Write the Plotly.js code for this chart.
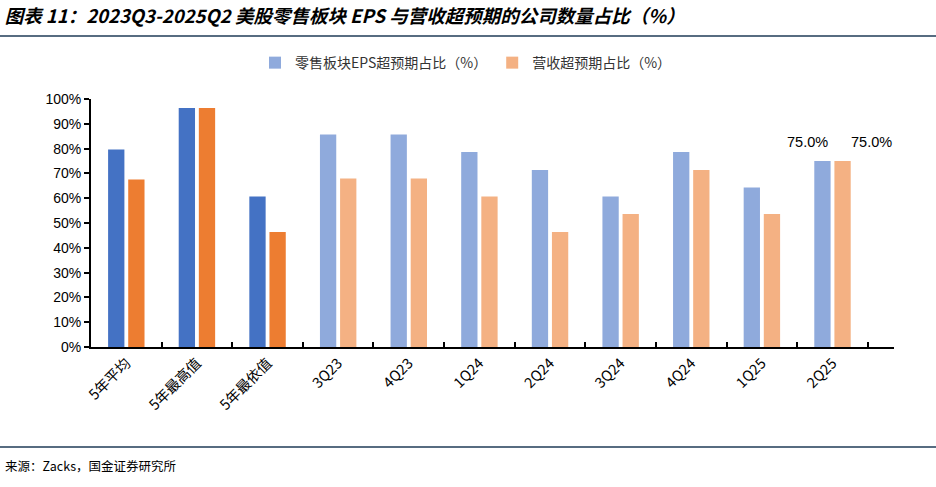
<!DOCTYPE html>
<html><head><meta charset="utf-8">
<script src="https://cdn.plot.ly/plotly-3.0.1.min.js"></script>
<style>body{margin:0;background:#fff}#c{width:936px;height:487px}</style>
</head><body><div id="c"></div>
<script>
const categories = ["5年平均","5年最高值","5年最依值","3Q23","4Q23","1Q24","2Q24","3Q24","4Q24","1Q25","2Q25"];
const epsBeat = [79.6, 96.4, 60.7, 85.7, 85.7, 78.6, 71.4, 60.7, 78.6, 64.3, 75.0];
const revBeat = [67.5, 96.4, 46.4, 67.9, 67.9, 60.7, 46.4, 53.6, 71.4, 53.6, 75.0];
const seriesNames = ["零售板块EPS超预期占比（%）","营收超预期占比（%）"];
const nHist = 3;

const fontLat = "Liberation Sans, Arial, Noto Sans CJK SC, sans-serif";
const fontCJK = "Noto Sans CJK SC, Liberation Sans, sans-serif";

const traces = [
  {type:'bar', x:categories.slice(0,nHist), y:epsBeat.slice(0,nHist), offsetgroup:'a', marker:{color:'#4472C4'}, showlegend:false, name:seriesNames[0]},
  {type:'bar', x:categories.slice(0,nHist), y:revBeat.slice(0,nHist), offsetgroup:'b', marker:{color:'#ED7D31'}, showlegend:false, name:seriesNames[1]},
  {type:'bar', x:categories.slice(nHist), y:epsBeat.slice(nHist), offsetgroup:'a', marker:{color:'#8FAADC'}, name:seriesNames[0]},
  {type:'bar', x:categories.slice(nHist), y:revBeat.slice(nHist), offsetgroup:'b', marker:{color:'#F4B183'}, name:seriesNames[1]}
];

const last = categories.length - 1;
const layout = {
  width:936, height:487,
  margin:{l:91, r:42, t:99, b:140},
  paper_bgcolor:'#fff', plot_bgcolor:'#fff',
  barmode:'group', bargap:0.43, bargroupgap:0.19,
  font:{family:fontLat, color:'#000'},
  title:{text:'<b><i>图表 11：2023Q3-2025Q2 美股零售板块 EPS 与营收超预期的公司数量占比（%）</i></b>',
    x:0.005, xanchor:'left', xref:'container', y:1-17/487, yref:'container', yanchor:'middle',
    font:{family:fontCJK, size:18.5, color:'#000'}},
  legend:{orientation:'h', x:0.467, xanchor:'center', y:1.145, yanchor:'middle',
    font:{family:fontCJK, size:14, color:'#333'}, itemwidth:30, traceorder:'normal'},
  xaxis:{type:'category', categoryorder:'array', categoryarray:categories,
    showline:true, linecolor:'#000', linewidth:2, ticks:'inside', tickson:'boundaries',
    ticklen:5, tickwidth:2, tickcolor:'#000', tickangle:-45,
    tickfont:{family:fontCJK, size:14.5, color:'#000'}, showgrid:false, zeroline:false},
  yaxis:{range:[0,100], dtick:10, ticksuffix:'%', showline:true, linecolor:'#000', linewidth:2,
    ticks:'outside', ticklen:5, tickwidth:2, tickcolor:'#000', showgrid:false, zeroline:false,
    tickfont:{family:fontLat, size:14, color:'#000'}},
  shapes:[
    {type:'line', xref:'paper', yref:'paper', x0:-91/803, x1:845/803, y0:(347-36)/248, y1:(347-36)/248, line:{color:'#1F3B57', width:1.5}},
    {type:'line', xref:'paper', yref:'paper', x0:-91/803, x1:845/803, y0:(347-447)/248, y1:(347-447)/248, line:{color:'#1F3B57', width:1.5}}
  ],
  annotations:[
    {x:categories[last], y:epsBeat[last], xref:'x', yref:'y', text:epsBeat[last].toFixed(1)+'%', showarrow:false,
     xshift:-25, yanchor:'bottom', yshift:9, font:{family:fontLat, size:14.5, color:'#000'}},
    {x:categories[last], y:revBeat[last], xref:'x', yref:'y', text:revBeat[last].toFixed(1)+'%', showarrow:false,
     xshift:39, yanchor:'bottom', yshift:9, font:{family:fontLat, size:14.5, color:'#000'}},
    {xref:'paper', yref:'paper', x:-88/803, xanchor:'left', y:(347-465)/248, yanchor:'middle',
     text:'来源：Zacks，国金证券研究所', showarrow:false, font:{family:fontCJK, size:12.5, color:'#000'}}
  ]
};
Plotly.newPlot('c', traces, layout, {displayModeBar:false, staticPlot:true});
</script></body></html>
